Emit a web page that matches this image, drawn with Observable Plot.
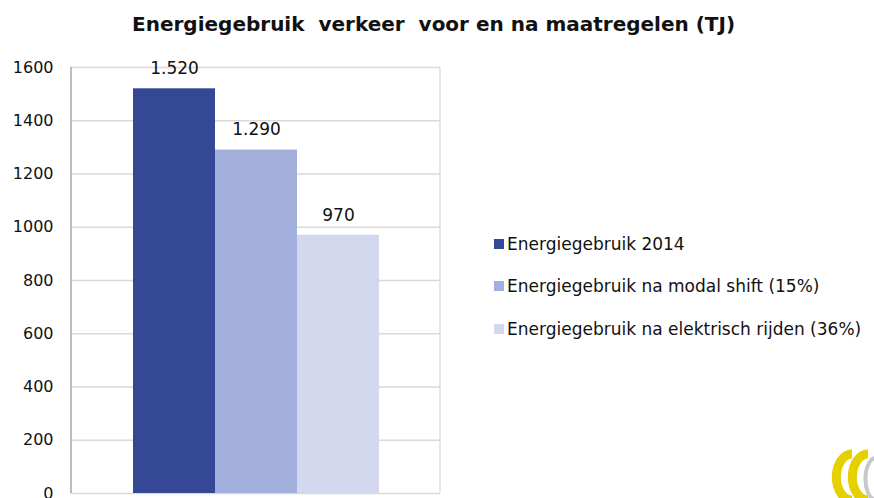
<!DOCTYPE html>
<html>
<head>
<meta charset="utf-8">
<script src="https://cdn.jsdelivr.net/npm/d3@7"></script>
<script src="https://cdn.jsdelivr.net/npm/@observablehq/plot@0.6"></script>
<style>
  html, body { margin: 0; padding: 0; background: #fff; }
  body { width: 874px; height: 498px; overflow: hidden; position: relative; font-family: "DejaVu Sans", sans-serif; }
  #title { height: 50px; box-sizing: border-box; padding-top: 12px; padding-left: 132px; font-weight: bold; font-size: 20px; white-space: pre; color: #111; }
  #legend { position: absolute; left: 494px; top: 231px; font-size: 17px; color: #111; }
  #legend .row { height: 25px; margin-bottom: 17.5px; display: flex; align-items: center; white-space: nowrap; }
  #legend .sw { width: 10px; height: 10px; margin-right: 3px; }
  #logo { position: absolute; left: 822px; top: 448px; }
</style>
</head>
<body>
<div id="title"></div>
<div id="chart"></div>
<div id="legend"></div>
<svg id="logo" width="54" height="50">
  <path d="M30 6 A15 22 0 0 0 30 52" fill="none" stroke="#e6d000" stroke-width="9"/>
  <path d="M46 6 A15 22 0 0 0 46 52" fill="none" stroke="#e6d000" stroke-width="9"/>
  <path d="M55 10 A10 20 0 0 0 53 52" fill="none" stroke="#c8c8c8" stroke-width="4"/>
</svg>
<script>
const titleText = "Energiegebruik  verkeer  voor en na maatregelen (TJ)";
const categories = ["Energiegebruik 2014", "Energiegebruik na modal shift (15%)", "Energiegebruik na elektrisch rijden (36%)"];
const values = [1520, 1290, 970];
const colors = ["#354896", "#a3b0dd", "#d3d8ef"];
const yTicks = [0, 200, 400, 600, 800, 1000, 1200, 1400, 1600];

document.getElementById("title").textContent = titleText;

const data = categories.map((c, i) => ({category: c, value: values[i]}));
const fmt = v => d3.format(",")(v).replace(/,/g, ".");

function vline(side, color, w) {
  return (index, scales, values, dim) => {
    const x = side === "left" ? dim.marginLeft : dim.width - dim.marginRight;
    const line = document.createElementNS("http://www.w3.org/2000/svg", "line");
    line.setAttribute("x1", x); line.setAttribute("x2", x);
    line.setAttribute("y1", scales.y(1600)); line.setAttribute("y2", scales.y(0));
    line.setAttribute("stroke", color); line.setAttribute("stroke-width", w);
    return line;
  };
}

const chart = Plot.plot({
  width: 874,
  height: 448,
  marginLeft: 71,
  marginRight: 434,
  marginTop: 17,
  marginBottom: 5,
  style: {fontFamily: "DejaVu Sans, sans-serif", fontSize: "16px", color: "#111", background: "#fff"},
  x: {domain: categories, paddingInner: 0, paddingOuter: 0.75, axis: null},
  y: {domain: [0, 1600], ticks: yTicks, label: null},
  color: {domain: categories, range: colors},
  marks: [
    Plot.ruleY(yTicks, {stroke: "#d9d9d9", strokeWidth: 1.3}),
    vline("right", "#d9d9d9", 1.3),
    Plot.barY(data, {x: "category", y: "value", fill: "category", inset: 0}),
    Plot.text(data, {x: "category", y: "value", text: d => fmt(d.value), dy: -20, fontSize: 17, fill: "#111"}),
    vline("left", "#a6a6a6", 1.5),
    Plot.axisY({ticks: yTicks, tickSize: 0, tickPadding: 18, fontSize: 16, label: null, tickFormat: d => String(d)})
  ]
});
document.getElementById("chart").appendChild(chart);

const legend = document.getElementById("legend");
categories.forEach((c, i) => {
  const row = document.createElement("div");
  row.className = "row";
  const sw = document.createElement("div");
  sw.className = "sw";
  sw.style.background = colors[i];
  const t = document.createElement("span");
  t.textContent = c;
  row.appendChild(sw);
  row.appendChild(t);
  legend.appendChild(row);
});
</script>
</body>
</html>
